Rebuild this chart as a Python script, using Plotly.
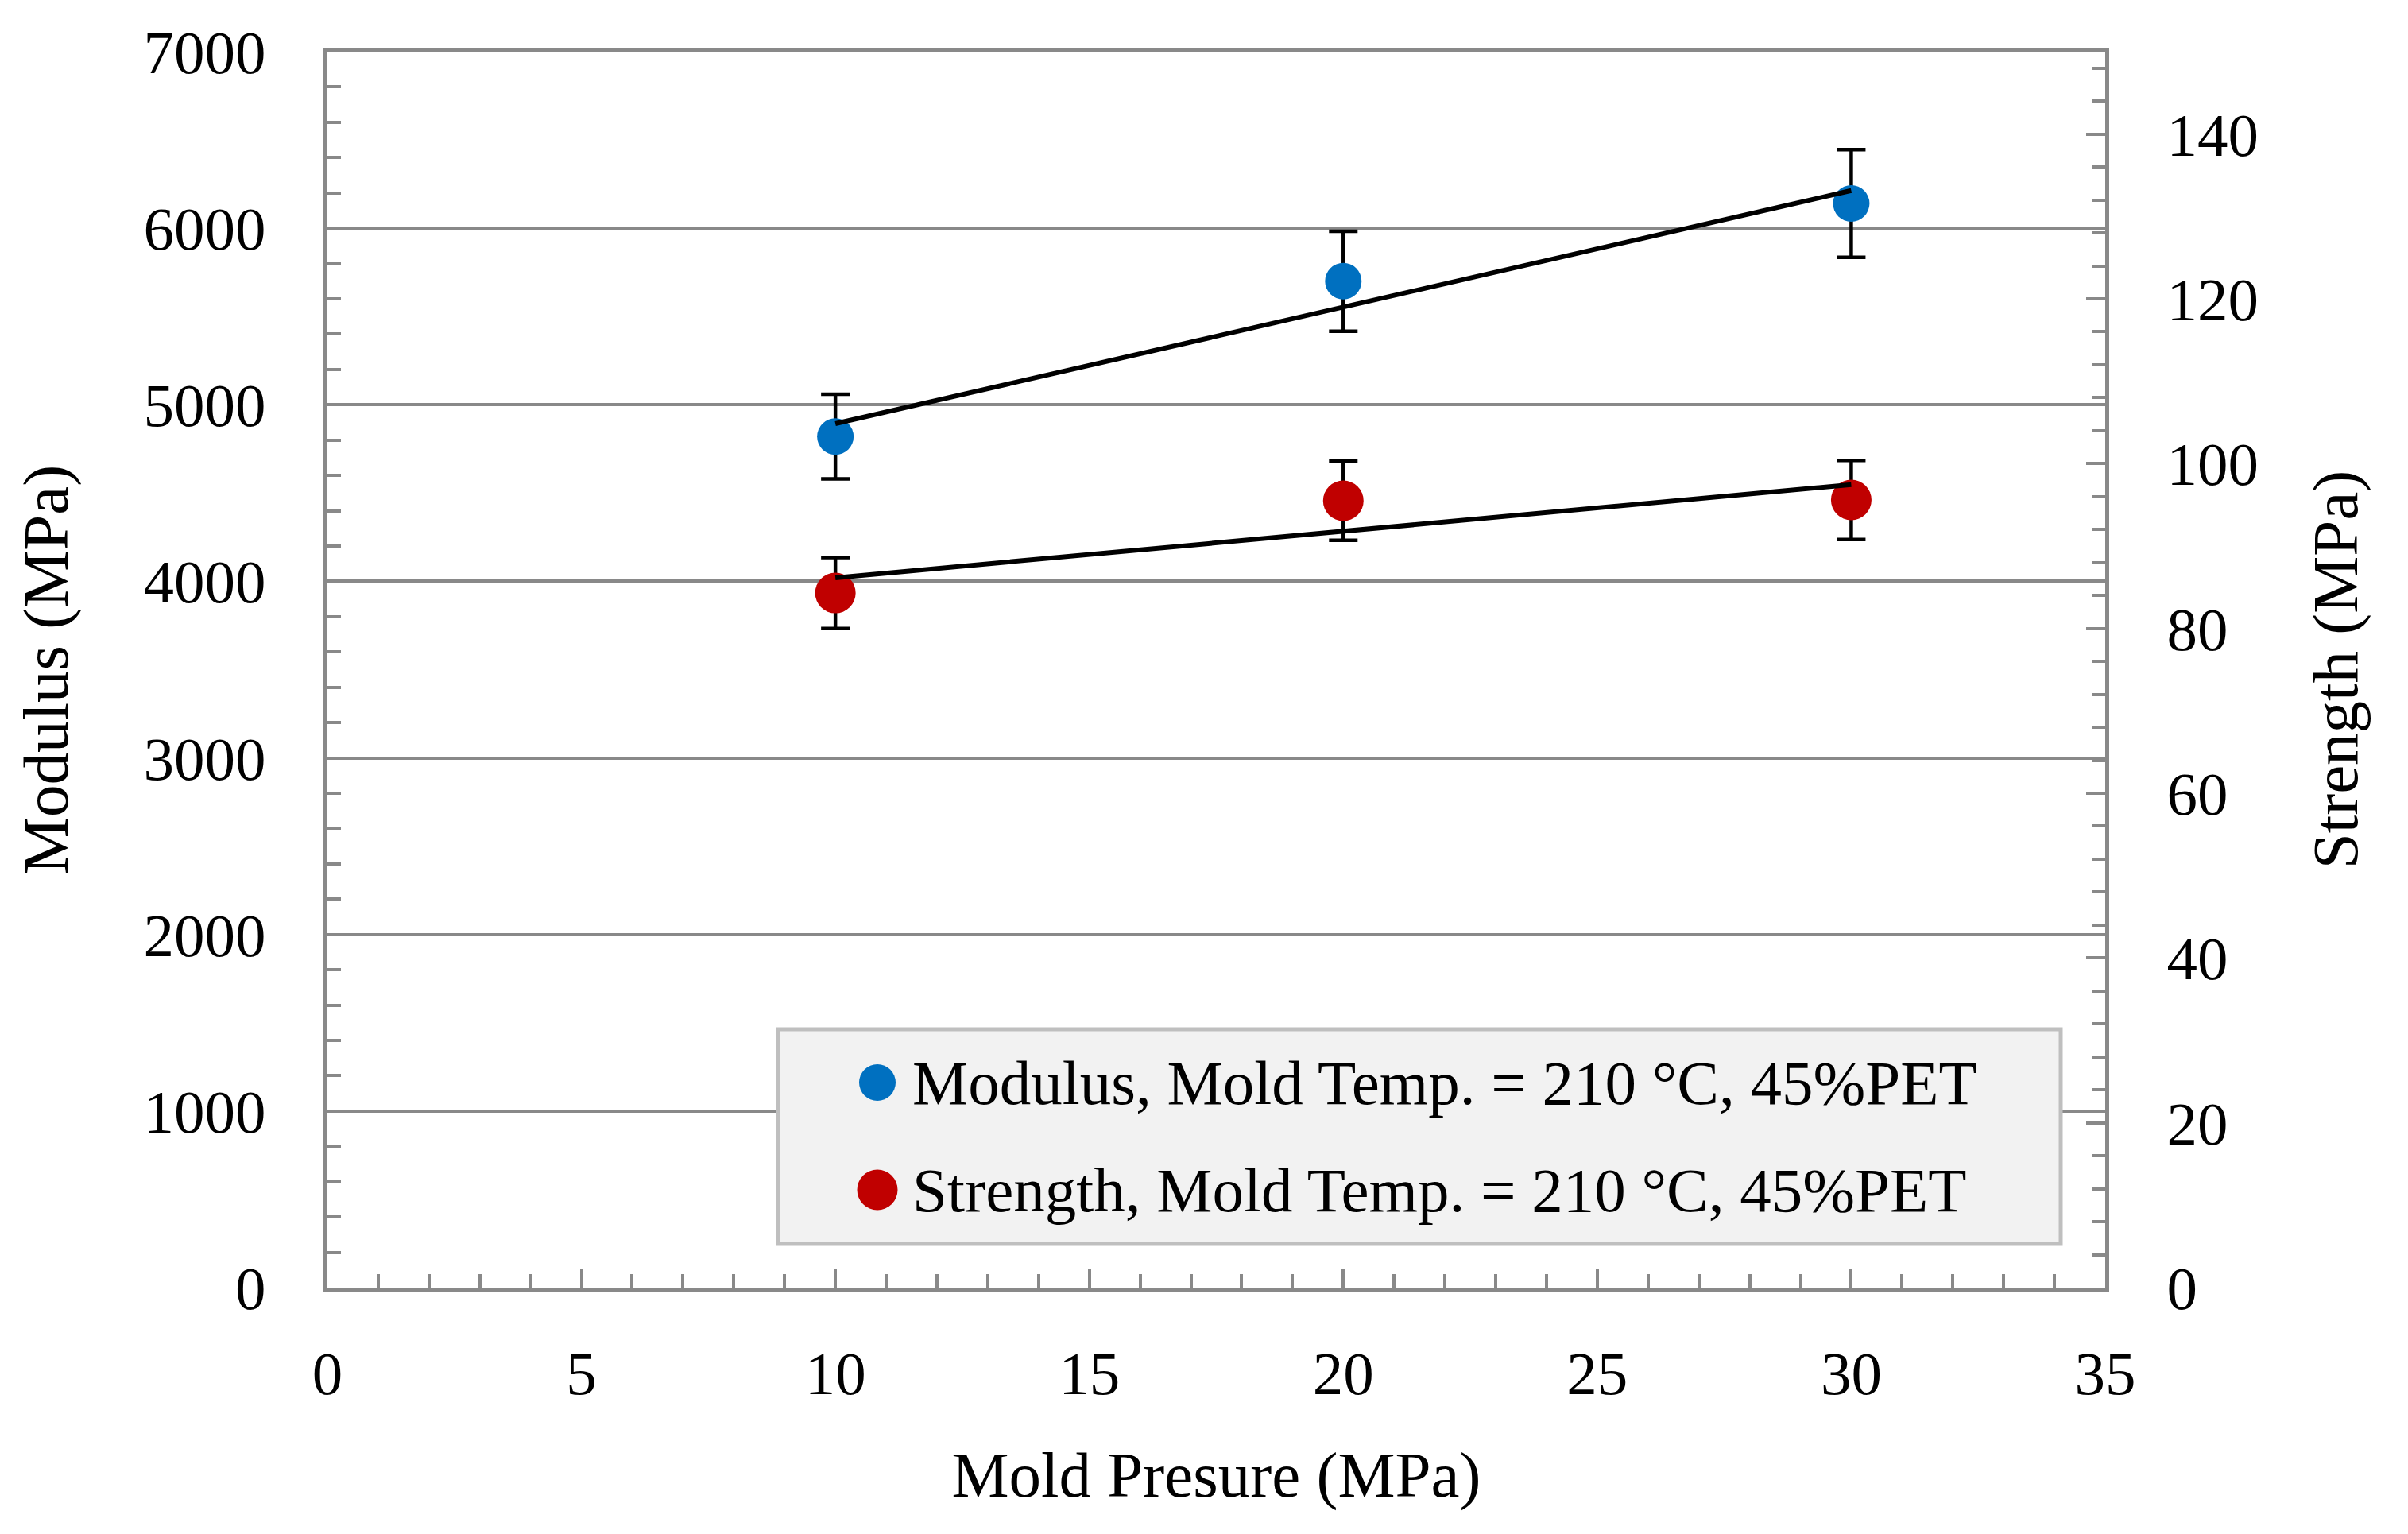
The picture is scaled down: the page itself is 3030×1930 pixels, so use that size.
import numpy as np
import plotly.graph_objects as go

# ---------------- data ----------------
pressure = [10, 20, 30]
modulus = [4820, 5700, 6140]
modulus_err = [240, 283, 305]
strength = [84.3, 95.5, 95.6]
strength_err = [4.3, 4.8, 4.8]

series_names = ["Modulus, Mold Temp. = 210 °C, 45%PET",
                "Strength, Mold Temp. = 210 °C, 45%PET"]
series_colors = ["#0070C0", "#C00000"]
x_title = "Mold Presure (MPa)"
y_title = "Modulus (MPa)"
y2_title = "Strength (MPa)"

# ---------------- style ----------------
W, H = 3030, 1930
L, R, T, B = 412, 381, 65, 310
FONT = "Liberation Serif"
GRAY = "#898989"
TICK_FS = 77
TITLE_FS = 81
LEG_FS = 79


def trend(xs, ys):
    k, b = np.polyfit(xs, ys, 1)
    xe = [min(xs), max(xs)]
    return xe, [k * x + b for x in xe]


fig = go.Figure()

fig.add_trace(go.Scatter(
    x=pressure, y=modulus, mode="markers", name=series_names[0],
    marker=dict(size=46, color=series_colors[0]),
    error_y=dict(type="data", array=modulus_err, color="black", thickness=4.5, width=18),
    showlegend=False))
tx, ty = trend(pressure, modulus)
fig.add_trace(go.Scatter(x=tx, y=ty, mode="lines", line=dict(color="black", width=6),
                         showlegend=False, hoverinfo="skip"))

fig.add_trace(go.Scatter(
    x=pressure, y=strength, mode="markers", name=series_names[1], yaxis="y2",
    marker=dict(size=51, color=series_colors[1]),
    error_y=dict(type="data", array=strength_err, color="black", thickness=4.5, width=18),
    showlegend=False))
tx2, ty2 = trend(pressure, strength)
fig.add_trace(go.Scatter(x=tx2, y=ty2, mode="lines", yaxis="y2",
                         line=dict(color="black", width=6),
                         showlegend=False, hoverinfo="skip"))

tickfont = dict(family=FONT, size=TICK_FS, color="black")
titlefont = dict(family=FONT, size=TITLE_FS, color="black")

fig.update_layout(
    width=W, height=H,
    margin=dict(l=L, r=R, t=T, b=B, autoexpand=False),
    plot_bgcolor="white", paper_bgcolor="white",
    font=dict(family=FONT, color="black"),
    showlegend=False,
    xaxis=dict(
        range=[0, 35], tick0=0, dtick=5, ticks="inside", ticklen=24, tickwidth=4,
        tickcolor=GRAY, showline=True, linecolor=GRAY, linewidth=5, mirror=True,
        showgrid=False, zeroline=False, tickfont=tickfont, ticklabelstandoff=37,
        minor=dict(dtick=1, ticks="inside", ticklen=17, tickwidth=4, tickcolor=GRAY,
                   showgrid=False),
        title=dict(text=x_title, font=titlefont, standoff=57),
    ),
    yaxis=dict(
        range=[0, 7000], tick0=0, dtick=1000, ticks="inside", ticklen=24, tickwidth=4,
        tickcolor=GRAY, showline=True, linecolor=GRAY, linewidth=5,
        showgrid=True, gridcolor=GRAY, gridwidth=4, zeroline=False,
        tickfont=tickfont, ticklabelstandoff=57,
        minor=dict(dtick=200, ticks="inside", ticklen=17, tickwidth=4, tickcolor=GRAY,
                   showgrid=False),
        title=dict(text=y_title, font=titlefont, standoff=70),
    ),
    yaxis2=dict(
        overlaying="y", side="right",
        range=[0, 150], tick0=0, dtick=20, ticks="inside", ticklen=24, tickwidth=4,
        tickcolor=GRAY, showline=True, linecolor=GRAY, linewidth=5,
        showgrid=False, zeroline=False, tickfont=tickfont, ticklabelstandoff=57,
        minor=dict(dtick=4, ticks="inside", ticklen=17, tickwidth=4, tickcolor=GRAY,
                   showgrid=False),
        title=dict(text=y2_title, font=titlefont, standoff=70),
    ),
)

# ---------------- legend (drawn box) ----------------
pw, ph = W - L - R, H - T - B


def px_x(px):
    return (px - L) / pw


def px_y(py):
    return (H - B - py) / ph


fig.add_shape(type="rect", xref="paper", yref="paper",
              x0=px_x(979), x1=px_x(2593), y0=px_y(1565), y1=px_y(1295),
              fillcolor="#F2F2F2", line=dict(color="#BFBFBF", width=5), layer="above")

leg_rows = [1362, 1497]
leg_sizes = [23, 25.5]
for name, col, ry, rad in zip(series_names, series_colors, leg_rows, leg_sizes):
    fig.add_shape(type="circle", xref="paper", yref="paper",
                  xsizemode="pixel", ysizemode="pixel",
                  xanchor=px_x(1104), yanchor=px_y(ry),
                  x0=-rad, x1=rad, y0=-rad, y1=rad,
                  fillcolor=col, line=dict(width=0), layer="above")
    fig.add_annotation(xref="paper", yref="paper", x=px_x(1146), y=px_y(ry),
                       xanchor="left", yanchor="middle", showarrow=False,
                       text=name, font=dict(family=FONT, size=LEG_FS, color="black"))

fig.write_html("out.html", config={"displayModeBar": False},
               post_script="document.body.style.margin='0';")
